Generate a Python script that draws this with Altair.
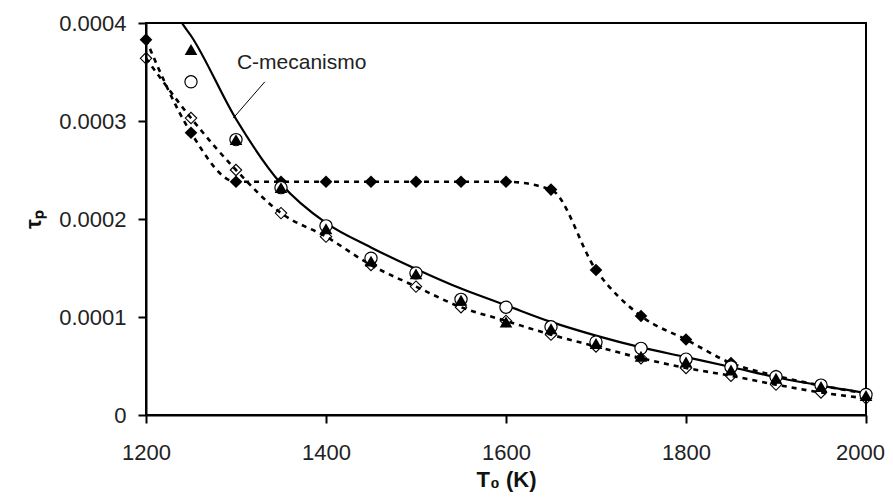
import altair as alt
import pandas as pd

# Temperature grid of the markers
T = [1200, 1250, 1300, 1350, 1400, 1450, 1500, 1550, 1600, 1650,
     1700, 1750, 1800, 1850, 1900, 1950, 2000]

# Filled diamonds (dotted line with plateau)
filled_diamond = [0.000383, 0.000288, 0.000238, 0.000238, 0.000238, 0.000238,
                  0.000238, 0.000238, 0.000238, 0.000230, 0.000148, 0.000101,
                  0.000077, 0.000053, 0.000040, 0.000030, 0.000022]

# Open diamonds (dotted line)
open_diamond = [0.000364, 0.000303, 0.000250, 0.000206, 0.000182, 0.000153,
                0.000131, 0.000110, 0.000096, 0.000082, 0.000070, 0.000058,
                0.000048, 0.000040, 0.000031, 0.000023, 0.000017]

# Triangles and circles start at 1250 K
T_sym = T[1:]
triangle = [0.000373, 0.000281, 0.000232, 0.000190, 0.000157, 0.000144,
            0.000117, 0.000095, 0.000088, 0.000073, 0.000060, 0.000054,
            0.000046, 0.0000375, 0.000029, 0.000020]
circle = [0.000340, 0.000281, 0.000232, 0.000193, 0.000160, 0.000145,
          0.000118, 0.000110, 0.000090, 0.0000745, 0.000068, 0.000057,
          0.000049, 0.000039, 0.0000305, 0.000021]

# Solid line: C-mecanismo
line_T = [1230, 1240, 1250, 1300, 1350, 1400, 1450, 1500, 1550, 1600, 1650,
          1700, 1750, 1800, 1850, 1900, 1950, 2000]
line_v = [0.000417, 0.000400, 0.000387, 0.000302, 0.000236, 0.000196, 0.000171,
          0.000149, 0.000129, 0.000112, 0.000095, 0.000081, 0.000069, 0.000059,
          0.000049, 0.0000385, 0.000030, 0.0000225]

# Annotation
label_text = ["C-mecanismo"]
label_T = [1301]
label_v = [0.000359]
leader_T = [1332]
leader_v = [0.000340]
leader_T2 = [1297]
leader_v2 = [0.000303]

df_fd = pd.DataFrame({"T": T, "v": filled_diamond})
df_od = pd.DataFrame({"T": T, "v": open_diamond})
df_tr = pd.DataFrame({"T": T_sym, "v": triangle})
df_ci = pd.DataFrame({"T": T_sym, "v": circle})
df_ln = pd.DataFrame({"T": line_T, "v": line_v})
df_lab = pd.DataFrame({"T": label_T, "v": label_v, "text": label_text})
df_lead = pd.DataFrame({"T": leader_T, "v": leader_v, "T2": leader_T2, "v2": leader_v2})

FONT = "Liberation Sans"

xenc = alt.X("T:Q",
             scale=alt.Scale(domain=[1200, 2000], nice=False, zero=False),
             axis=alt.Axis(values=[1200, 1400, 1600, 1800, 2000], format="d",
                           title="T₀ (K)", titleX=360, titleY=71,
                           titleBaseline="alphabetic", labelPadding=19,
                           labelFlush=False,
                           labelOffset=alt.condition("datum.value == 2000",
                                                     alt.value(-6), alt.value(0))))
yenc = alt.Y("v:Q",
             scale=alt.Scale(domain=[0, 0.0004], nice=False),
             axis=alt.Axis(values=[0, 0.0001, 0.0002, 0.0003, 0.0004], format=".4~f",
                           title="τₚ", titleX=-113, titleY=196, titleAngle=-90,
                           titleBaseline="middle", titleAlign="center", labelPadding=12,
                           labelFlush=False))

solid = alt.Chart(df_ln).mark_line(color="black", strokeWidth=2.2, interpolate="monotone",
                                    clip=True).encode(x=xenc, y=yenc)
dot_fd = alt.Chart(df_fd).mark_line(color="black", strokeWidth=2.6, strokeDash=[5, 5],
                                     interpolate="monotone").encode(x=xenc, y=yenc)
dot_od = alt.Chart(df_od).mark_line(color="black", strokeWidth=2.6, strokeDash=[5, 5],
                                     interpolate="monotone").encode(x=xenc, y=yenc)
pts_od = alt.Chart(df_od).mark_point(shape="diamond", filled=False, color="black",
                                      size=130, strokeWidth=1.1, opacity=1).encode(x=xenc, y=yenc)
pts_fd = alt.Chart(df_fd).mark_point(shape="diamond", filled=True, color="black",
                                      size=160, opacity=1).encode(x=xenc, y=yenc)
pts_ci = alt.Chart(df_ci).mark_point(shape="circle", filled=True, fill="white",
                                      stroke="black", strokeWidth=1.2, size=150,
                                      opacity=1).encode(x=xenc, y=yenc)
pts_tr = alt.Chart(df_tr).mark_point(shape="triangle-up", filled=True, color="black",
                                      size=160, opacity=1).encode(x=xenc, y=yenc)
lead = alt.Chart(df_lead).mark_rule(color="black", strokeWidth=1).encode(
    x=xenc, y=yenc, x2="T2:Q", y2="v2:Q")
lab = alt.Chart(df_lab).mark_text(align="left", baseline="middle", font=FONT,
                                   fontSize=21, color="#222").encode(x=xenc, y=yenc, text="text:N")

chart = alt.layer(solid, dot_fd, dot_od, pts_od, pts_fd, pts_ci, pts_tr, lead, lab).properties(
    width=720, height=392,
    autosize=alt.AutoSizeParams(type="none"),
    padding={"left": 138, "top": 15, "right": 19, "bottom": 77},
).configure_view(
    stroke="black", strokeWidth=2
).configure_axis(
    grid=False, domainColor="black", domainWidth=2, tickColor="black", tickWidth=2,
    tickSize=8, labelFont=FONT, labelFontSize=22, labelColor="#222",
    titleFont=FONT, titleFontSize=22, titleFontWeight="bold", titleColor="#111"
)

chart.save("out.html", embed_options={"renderer": "svg", "actions": False})
